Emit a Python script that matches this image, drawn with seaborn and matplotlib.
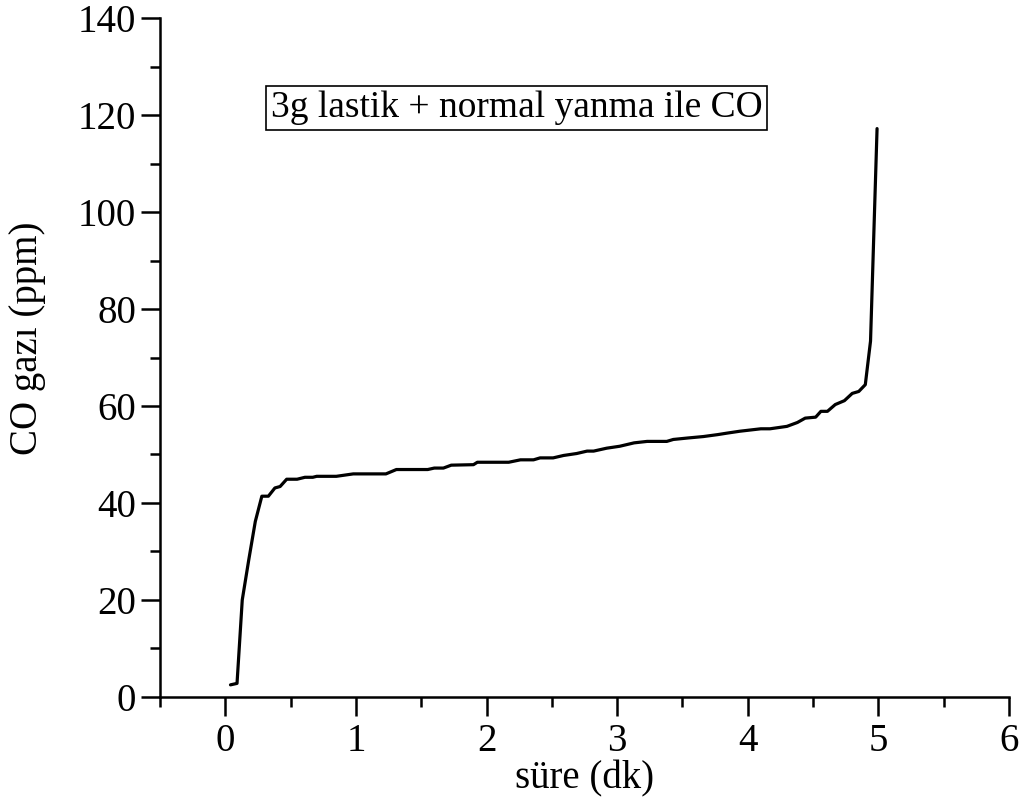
import matplotlib
matplotlib.use("Agg")
import matplotlib.pyplot as plt
import seaborn as sns
import pandas as pd
from matplotlib.ticker import MultipleLocator

# values
sure_dk = [0.04, 0.09, 0.13, 0.18, 0.23, 0.28, 0.33, 0.38, 0.42, 0.47,
           0.55, 0.61, 0.67, 0.70, 0.85, 0.98, 1.23, 1.31, 1.55, 1.60,
           1.67, 1.73, 1.90, 1.93, 2.17, 2.26, 2.36, 2.41, 2.51, 2.59,
           2.69, 2.77, 2.82, 2.92, 3.02, 3.13, 3.23, 3.38, 3.43, 3.54,
           3.66, 3.77, 3.84, 3.94, 4.10, 4.17, 4.30, 4.38, 4.44, 4.52,
           4.56, 4.61, 4.67, 4.74, 4.80, 4.85, 4.90, 4.94, 4.99]
co_ppm = [2.5, 2.8, 20, 28.3, 36.2, 41.4, 41.4, 43.1, 43.4, 44.9,
          44.9, 45.3, 45.3, 45.5, 45.5, 46.0, 46.0, 46.9, 46.9, 47.2,
          47.2, 47.8, 47.9, 48.4, 48.4, 48.9, 48.9, 49.3, 49.3, 49.8,
          50.2, 50.7, 50.7, 51.3, 51.7, 52.4, 52.7, 52.7, 53.1, 53.4,
          53.7, 54.1, 54.4, 54.8, 55.3, 55.3, 55.8, 56.6, 57.5, 57.7,
          58.9, 58.9, 60.3, 61.1, 62.6, 63.0, 64.4, 73.4, 117.2]

x_ticks = [0, 1, 2, 3, 4, 5, 6]
y_ticks = [0, 20, 40, 60, 80, 100, 120, 140]

df = pd.DataFrame({"sure": sure_dk, "co": co_ppm})

sns.set_style("ticks")
plt.rcParams["font.family"] = ["Liberation Serif", "DejaVu Serif"]
plt.rcParams["axes.linewidth"] = 1.8
plt.rcParams["text.color"] = "black"
plt.rcParams["axes.labelcolor"] = "black"
plt.rcParams["axes.edgecolor"] = "black"

fig = plt.figure(figsize=(10.3, 7.98), dpi=100)
ax = fig.add_axes([0.1553, 0.1266, 0.8243, 0.8508])

sns.lineplot(data=df, x="sure", y="co", ax=ax, color="black",
             linewidth=2.3, estimator=None, sort=False)

ax.set_xlim(-0.5, 6)
ax.set_ylim(0, 140)
ax.set_xticks(x_ticks)
ax.set_yticks(y_ticks)
ax.xaxis.set_minor_locator(MultipleLocator(0.5))
ax.yaxis.set_minor_locator(MultipleLocator(10))
ax.tick_params(which="major", length=14, width=1.8, labelsize=28, colors="black")
ax.tick_params(axis="y", which="major", pad=3)
ax.tick_params(axis="x", which="major", pad=5)
ax.tick_params(which="minor", length=7, width=1.8, colors="black")

ax.spines["top"].set_visible(False)
ax.spines["right"].set_visible(False)

ax.set_xlabel("süre (dk)", fontsize=28, labelpad=0)
ax.set_ylabel("CO gazı (ppm)", fontsize=28)
ax.yaxis.set_label_coords(-0.134, 0.528)

ax.text(2.23, 121.4, "3g lastik + normal yanma ile CO", fontsize=27,
        ha="center", va="center", color="black",
        bbox=dict(boxstyle="square,pad=0.12", facecolor="white",
                  edgecolor="black", linewidth=1.2))

fig.savefig("out.png", dpi=100)
